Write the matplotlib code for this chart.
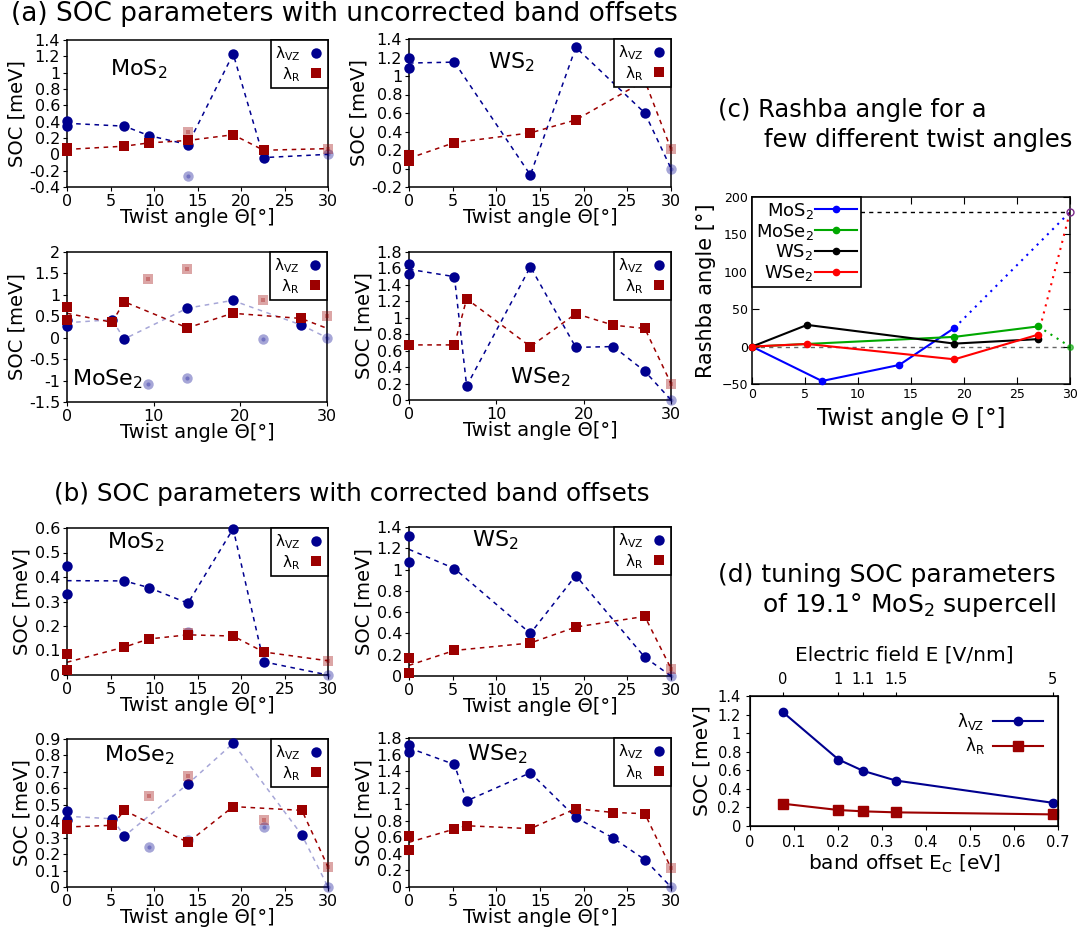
import numpy as np
import matplotlib
matplotlib.use("Agg")
import matplotlib.pyplot as plt
from matplotlib.lines import Line2D
from matplotlib.ticker import FuncFormatter

# ---- (a) uncorrected band offsets ----
a_mos2_theta = [0, 6.6, 9.4, 13.9, 19.1, 22.6, 30]
a_mos2_vz = [0.38, 0.345, 0.23, 0.12, 1.23, -0.04, 0.0]
a_mos2_r = [0.06, 0.10, 0.14, 0.17, 0.24, 0.05, 0.07]
a_mos2_vz0 = [0.41, 0.35]
a_mos2_r0 = [0.04, 0.08]
a_mos2_vz_fade_th, a_mos2_vz_fade = [13.9, 30], [-0.27, 0.0]
a_mos2_r_fade_th, a_mos2_r_fade = [13.9, 30], [0.27, 0.07]

a_ws2_theta = [0, 5.2, 13.9, 19.1, 27, 30]
a_ws2_vz = [1.14, 1.15, -0.07, 1.31, 0.60, 0.0]
a_ws2_r = [0.11, 0.28, 0.385, 0.525, 0.95, 0.21]
a_ws2_vz0 = [1.19, 1.09]
a_ws2_r0 = [0.15, 0.08]
a_ws2_vz_fade_th, a_ws2_vz_fade = [30], [0.0]
a_ws2_r_fade_th, a_ws2_r_fade = [30], [0.21]

a_mose2_theta = [0, 5.2, 6.6, 13.9, 19.1, 27, 30]
a_mose2_vz = [0.35, 0.42, -0.03, 0.69, 0.87, 0.30, 0.0]
a_mose2_r = [0.57, 0.36, 0.84, 0.23, 0.57, 0.45, 0.22]
a_mose2_vz0 = [0.28, 0.42]
a_mose2_r0 = [0.72, 0.42]
a_mose2_vz_fade_th, a_mose2_vz_fade = [9.4, 13.9, 22.6, 30], [-1.07, -0.95, -0.03, 0.0]
a_mose2_r_fade_th, a_mose2_r_fade = [9.4, 13.9, 22.6, 30], [1.38, 1.61, 0.88, 0.51]

a_wse2_theta = [0, 5.2, 6.6, 13.9, 19.1, 23.4, 27, 30]
a_wse2_vz = [1.59, 1.50, 0.17, 1.62, 0.64, 0.65, 0.35, 0.0]
a_wse2_r = [0.67, 0.67, 1.23, 0.65, 1.05, 0.91, 0.87, 0.20]
a_wse2_vz0 = [1.65, 1.53]
a_wse2_r0 = [0.67, 0.67]
a_wse2_vz_fade_th, a_wse2_vz_fade = [30], [0.0]
a_wse2_r_fade_th, a_wse2_r_fade = [30], [0.20]

# ---- (b) corrected band offsets ----
b_mos2_theta = [0, 6.6, 9.4, 13.9, 19.1, 22.6, 30]
b_mos2_vz = [0.385, 0.384, 0.357, 0.293, 0.597, 0.054, 0.0]
b_mos2_r = [0.052, 0.114, 0.147, 0.164, 0.159, 0.094, 0.058]
b_mos2_vz0 = [0.444, 0.331]
b_mos2_r0 = [0.084, 0.019]
b_mos2_vz_fade_th, b_mos2_vz_fade = [13.9, 30], [0.176, 0.0]
b_mos2_r_fade_th, b_mos2_r_fade = [13.9, 30], [0.17, 0.058]

b_ws2_theta = [0, 5.2, 13.9, 19.1, 27, 30]
b_ws2_vz = [1.19, 1.01, 0.40, 0.944, 0.176, 0.0]
b_ws2_r = [0.10, 0.24, 0.31, 0.46, 0.56, 0.07]
b_ws2_vz0 = [1.315, 1.07]
b_ws2_r0 = [0.173, 0.03]
b_ws2_vz_fade_th, b_ws2_vz_fade = [30], [0.0]
b_ws2_r_fade_th, b_ws2_r_fade = [30], [0.07]

b_mose2_theta = [0, 5.2, 6.6, 13.9, 19.1, 27, 30]
b_mose2_vz = [0.43, 0.415, 0.31, 0.627, 0.874, 0.316, 0.0]
b_mose2_r = [0.365, 0.375, 0.466, 0.271, 0.489, 0.466, 0.122]
b_mose2_vz0 = [0.462, 0.407]
b_mose2_r0 = [0.38, 0.35]
b_mose2_vz_fade_th, b_mose2_vz_fade = [9.4, 13.9, 22.6, 30], [0.242, 0.285, 0.362, 0.0]
b_mose2_r_fade_th, b_mose2_r_fade = [9.4, 13.9, 22.6, 30], [0.556, 0.676, 0.41, 0.122]

b_wse2_theta = [0, 5.2, 6.6, 13.9, 19.1, 23.4, 27, 30]
b_wse2_vz = [1.68, 1.48, 1.04, 1.38, 0.84, 0.59, 0.33, 0.0]
b_wse2_r = [0.54, 0.70, 0.74, 0.705, 0.946, 0.90, 0.886, 0.23]
b_wse2_vz0 = [1.72, 1.63]
b_wse2_r0 = [0.62, 0.445]
b_wse2_vz_fade_th, b_wse2_vz_fade = [30], [0.0]
b_wse2_r_fade_th, b_wse2_r_fade = [30], [0.23]

# ---- (c) Rashba angle ----
rashba_mos2_th = [0, 6.6, 13.9, 19.1]
rashba_mos2 = [0, -46, -24.5, 25]
rashba_mose2_th = [0, 19.1, 27]
rashba_mose2 = [0, 13, 27]
rashba_ws2_th = [0, 5.2, 19.1, 27]
rashba_ws2 = [0, 29, 4, 10]
rashba_wse2_th = [0, 5.2, 19.1, 27]
rashba_wse2 = [0, 3.5, -17, 16]
rashba_end_th = 30
rashba_mos2_end, rashba_wse2_end, rashba_mose2_end = 180, 180, 0

# ---- (d) tuning 19.1 deg MoS2 ----
band_offset = [0.075, 0.201, 0.257, 0.331, 0.688]
tune_vz = [1.225, 0.716, 0.594, 0.49, 0.25]
tune_r = [0.24, 0.172, 0.158, 0.147, 0.125]
efield_labels = ["0", "1", "1.1", "1.5", "5"]

W, H = 1080, 933
BLUE = "#00008f"
RED = "#9c0000"
LAM_VZ = "λ$_{\\rm VZ}$"
LAM_R = "λ$_{\\rm R}$"
gfmt = FuncFormatter(lambda v, p: f"{round(v, 4):g}")


def rect(l, t, r, b):
    return [l / W, 1 - b / H, (r - l) / W, (b - t) / H]


def soc_panel(fig, box, name, name_xy, theta, vz, r, vz0, r0,
              vz_fade_th, vz_fade, r_fade_th, r_fade,
              ylim, ystep, xticks, vz_alpha=1.0):
    ax = fig.add_axes(rect(*box))
    dash = (0, (3, 3))
    ax.plot(theta, vz, ls=dash, lw=1.1, color=BLUE, alpha=vz_alpha, zorder=2)
    ax.plot(theta, r, ls=dash, lw=1.1, color=RED, zorder=2)

    ax.plot(vz_fade_th, vz_fade, "o", ms=7.5, color=BLUE, alpha=0.35, mew=0, zorder=3, clip_on=False)
    ax.plot(vz_fade_th, vz_fade, "o", ms=3, color=BLUE, alpha=0.3, mew=0, zorder=3, clip_on=False)
    ax.plot([0] * len(vz0) + theta[1:-1], vz0 + vz[1:-1], "o", ms=7.5, color=BLUE,
            mew=0, zorder=4, clip_on=False)

    ax.plot(r_fade_th, r_fade, "s", ms=7.5, color=RED, alpha=0.35, mew=0, zorder=5, clip_on=False)
    ax.plot(r_fade_th, r_fade, "s", ms=3, color=RED, alpha=0.3, mew=0, zorder=5, clip_on=False)
    ax.plot([0] * len(r0) + theta[1:-1], r0 + r[1:-1], "s", ms=7.5, color=RED,
            mew=0, zorder=6, clip_on=False)

    ax.set_xlim(0, 30)
    ax.set_ylim(*ylim)
    ax.set_xticks(xticks)
    ax.set_yticks(np.arange(ylim[0], ylim[1] + ystep / 2, ystep))
    ax.yaxis.set_major_formatter(gfmt)
    ax.tick_params(labelsize=11.5, length=3, pad=2)
    for s in ax.spines.values():
        s.set_linewidth(1.1)
    ax.set_ylabel("SOC [meV]", fontsize=14, labelpad=2)
    ax.set_xlabel("Twist angle Θ[°]", fontsize=14, labelpad=-1)
    ax.text(name_xy[0], name_xy[1], name, transform=ax.transAxes,
            fontsize=16, ha="left", va="center")

    handles = [Line2D([], [], ls="none", marker="o", ms=7.5, color=BLUE, mew=0),
               Line2D([], [], ls="none", marker="s", ms=7.5, color=RED, mew=0)]
    leg = ax.legend(handles, [LAM_VZ, LAM_R], loc="upper right", borderaxespad=0,
                    markerfirst=False, fontsize=11, fancybox=False, edgecolor="black",
                    framealpha=1, handlelength=1.0, handletextpad=0.5,
                    borderpad=0.3, labelspacing=0.1)
    leg.get_frame().set_linewidth(1.2)
    leg.set_zorder(10)
    return ax


fig = plt.figure(figsize=(W / 100, H / 100), dpi=100)

x5 = [0, 5, 10, 15, 20, 25, 30]
x10 = [0, 10, 20, 30]

soc_panel(fig, (67, 40, 328, 187), "MoS$_2$", (0.165, 0.80),
          a_mos2_theta, a_mos2_vz, a_mos2_r, a_mos2_vz0, a_mos2_r0,
          a_mos2_vz_fade_th, a_mos2_vz_fade, a_mos2_r_fade_th, a_mos2_r_fade,
          (-0.4, 1.4), 0.2, x5)
soc_panel(fig, (409, 39, 671, 187), "WS$_2$", (0.30, 0.84),
          a_ws2_theta, a_ws2_vz, a_ws2_r, a_ws2_vz0, a_ws2_r0,
          a_ws2_vz_fade_th, a_ws2_vz_fade, a_ws2_r_fade_th, a_ws2_r_fade,
          (-0.2, 1.4), 0.2, x5)
soc_panel(fig, (67, 252, 327, 402), "MoSe$_2$", (0.02, 0.15),
          a_mose2_theta, a_mose2_vz, a_mose2_r, a_mose2_vz0, a_mose2_r0,
          a_mose2_vz_fade_th, a_mose2_vz_fade, a_mose2_r_fade_th, a_mose2_r_fade,
          (-1.5, 2.0), 0.5, x10, vz_alpha=0.35)
soc_panel(fig, (409, 252, 671, 400), "WSe$_2$", (0.385, 0.155),
          a_wse2_theta, a_wse2_vz, a_wse2_r, a_wse2_vz0, a_wse2_r0,
          a_wse2_vz_fade_th, a_wse2_vz_fade, a_wse2_r_fade_th, a_wse2_r_fade,
          (0, 1.8), 0.2, x10)

soc_panel(fig, (67, 528, 328, 675), "MoS$_2$", (0.155, 0.90),
          b_mos2_theta, b_mos2_vz, b_mos2_r, b_mos2_vz0, b_mos2_r0,
          b_mos2_vz_fade_th, b_mos2_vz_fade, b_mos2_r_fade_th, b_mos2_r_fade,
          (0, 0.6), 0.1, x5)
soc_panel(fig, (409, 527, 671, 676), "WS$_2$", (0.24, 0.91),
          b_ws2_theta, b_ws2_vz, b_ws2_r, b_ws2_vz0, b_ws2_r0,
          b_ws2_vz_fade_th, b_ws2_vz_fade, b_ws2_r_fade_th, b_ws2_r_fade,
          (0, 1.4), 0.2, x5)
soc_panel(fig, (67, 739, 328, 887), "MoSe$_2$", (0.14, 0.89),
          b_mose2_theta, b_mose2_vz, b_mose2_r, b_mose2_vz0, b_mose2_r0,
          b_mose2_vz_fade_th, b_mose2_vz_fade, b_mose2_r_fade_th, b_mose2_r_fade,
          (0, 0.9), 0.1, x5, vz_alpha=0.35)
soc_panel(fig, (409, 738, 671, 887), "WSe$_2$", (0.22, 0.89),
          b_wse2_theta, b_wse2_vz, b_wse2_r, b_wse2_vz0, b_wse2_r0,
          b_wse2_vz_fade_th, b_wse2_vz_fade, b_wse2_r_fade_th, b_wse2_r_fade,
          (0, 1.8), 0.2, x5)

# (c) Rashba angle
axc = fig.add_axes(rect(752, 197, 1070, 384))
dots = (0, (1, 2.5))
axc.axhline(180, color="black", ls=(0, (3, 3)), lw=1, zorder=1)
axc.axhline(0, color="0.4", ls=(0, (3, 3)), lw=1, zorder=1)
for th, ang, col, lab in [(rashba_mos2_th, rashba_mos2, "#0000ff", "MoS$_2$"),
                          (rashba_mose2_th, rashba_mose2, "#00a800", "MoSe$_2$"),
                          (rashba_ws2_th, rashba_ws2, "black", "WS$_2$"),
                          (rashba_wse2_th, rashba_wse2, "#ff0000", "WSe$_2$")]:
    axc.plot(th, ang, "-o", color=col, lw=1.5, ms=4.5, label=lab, zorder=3, clip_on=False)
axc.plot([rashba_mos2_th[-1], rashba_end_th], [rashba_mos2[-1], rashba_mos2_end],
         ls=dots, color="#0000ff", lw=1.5)
axc.plot([rashba_wse2_th[-1], rashba_end_th], [rashba_wse2[-1], rashba_wse2_end],
         ls=dots, color="#ff0000", lw=1.5)
axc.plot([rashba_mose2_th[-1], rashba_end_th], [rashba_mose2[-1], rashba_mose2_end],
         ls=dots, color="#00a800", lw=1.5)
axc.plot([rashba_end_th], [rashba_mos2_end], "o", mfc="none", mec="#7a2a8a", ms=5,
         clip_on=False, zorder=4)
axc.plot([rashba_end_th], [rashba_mose2_end], "o", color="#00a800", ms=4, alpha=0.6,
         clip_on=False, zorder=4)
axc.set_xlim(0, 30)
axc.set_ylim(-50, 200)
axc.set_xticks(x5)
axc.set_yticks(np.arange(-50, 201, 50))
axc.tick_params(direction="in", top=True, right=True, labelsize=9, length=5, pad=3)
axc.set_ylabel("Rashba angle [°]", fontsize=15)
axc.set_xlabel("Twist angle Θ [°]", fontsize=16.5, labelpad=4)
legc = axc.legend(loc="upper left", borderaxespad=0, markerfirst=False, fontsize=13,
                  fancybox=False, edgecolor="black", framealpha=1, handlelength=2.3,
                  handletextpad=0.1, borderpad=0.2, labelspacing=0.05)
legc.get_frame().set_linewidth(1.2)
for col in legc._legend_handle_box.get_children():
    col.align = "right"

# (d) tuning
axd = fig.add_axes(rect(750, 696, 1058, 826))
axd.plot(band_offset, tune_vz, "-o", color=BLUE, lw=1.5, ms=6, label=LAM_VZ, clip_on=False)
axd.plot(band_offset, tune_r, "-s", color=RED, lw=1.5, ms=7, label=LAM_R, clip_on=False)
axd.set_xlim(0, 0.7)
axd.set_ylim(0, 1.4)
axd.set_xticks(np.arange(0, 0.71, 0.1))
axd.set_yticks(np.arange(0, 1.41, 0.2))
axd.xaxis.set_major_formatter(gfmt)
axd.yaxis.set_major_formatter(gfmt)
axd.tick_params(labelsize=10.5, length=3)
axd.set_ylabel("SOC [meV]", fontsize=14.5)
axd.set_xlabel("band offset E$_{\\rm C}$ [eV]", fontsize=14.5, labelpad=2)
axd.legend(loc="upper right", frameon=False, markerfirst=False, fontsize=12,
           handlelength=3, handletextpad=0.5, labelspacing=0.2)
top = axd.twiny()
top.set_xlim(axd.get_xlim())
top.set_xticks(band_offset)
top.set_xticklabels(efield_labels)
top.tick_params(labelsize=10.5, length=3)
top.set_xlabel("Electric field E [V/nm]", fontsize=14.5, labelpad=8)
for a in (axc, axd):
    for s in a.spines.values():
        s.set_linewidth(1.1)

# panel titles
fig.text(344 / W, 1 - 14 / H, "(a) SOC parameters with uncorrected band offsets",
         ha="center", va="center", fontsize=19)
fig.text(352 / W, 1 - 494 / H, "(b) SOC parameters with corrected band offsets",
         ha="center", va="center", fontsize=17.8)
fig.text(718 / W, 1 - 110 / H, "(c) Rashba angle for a", ha="left", va="center", fontsize=17.5)
fig.text(764 / W, 1 - 140 / H, "few different twist angles", ha="left", va="center", fontsize=17.5)
fig.text(718 / W, 1 - 575 / H, "(d) tuning SOC parameters", ha="left", va="center", fontsize=18)
fig.text(762 / W, 1 - 605 / H, "of 19.1° MoS$_2$ supercell", ha="left", va="center", fontsize=18)

fig.savefig("out.png", dpi=100)
